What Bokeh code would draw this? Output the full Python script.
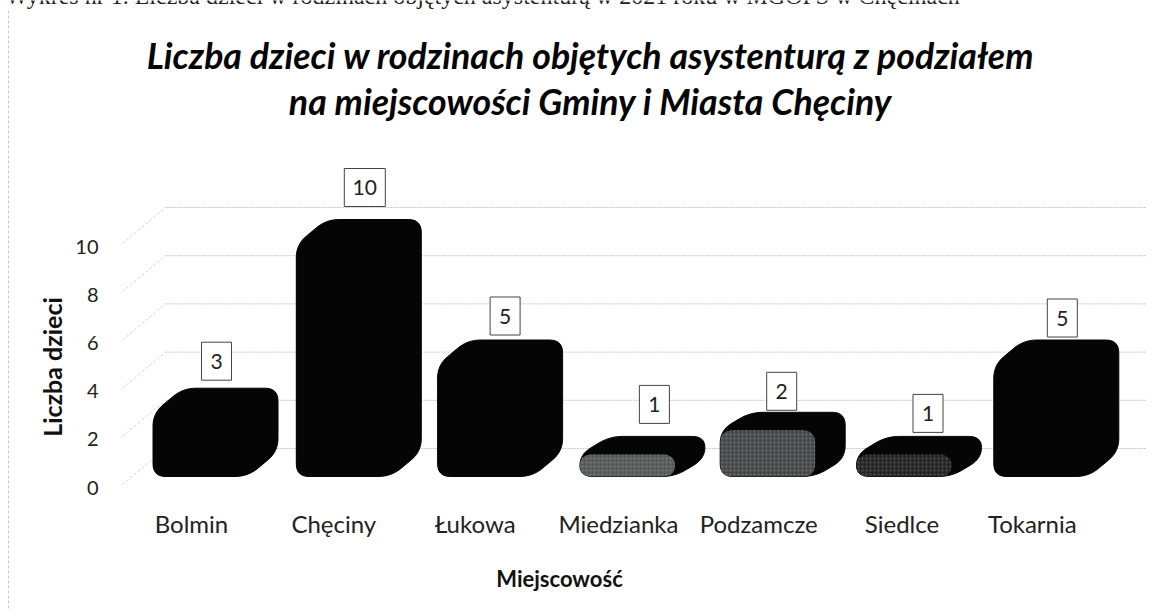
from bokeh.plotting import figure
from bokeh.models import Range1d, LinearAxis, FixedTicker
from bokeh.core.properties import value
from bokeh.embed import file_html
from bokeh.resources import INLINE

categories = ["Bolmin", "Chęciny", "Łukowa", "Miedzianka", "Podzamcze", "Siedlce", "Tokarnia"]
counts = [3, 10, 5, 1, 2, 1, 5]
y_ticks = [0, 2, 4, 6, 8, 10]
title_lines = ["Liczba dzieci w rodzinach objętych asystenturą z podziałem",
               "na miejscowości Gminy i Miasta Chęciny"]
caption = "Wykres nr 1. Liczba dzieci w rodzinach objętych asystenturą w 2021 roku w MGOPS w Chęcinach"
front_colors = ["#050505", "#050505", "#050505", "#575b5b", "#45494a", "#262626", "#050505"]
speckle_alpha = [0, 0, 0, 0.55, 0.55, 0.4, 0]
bar_dx = [0, 3, 4, 6, 6, 2, -1]
box_dx = [1, 9, 9, 18, 5, 11, 5]
box_gap = [27, 32, 24, 32, 21, 23, 22]
label_dx = [-24, -22, -21, -18, -18, -15, -25]

W, H = 1152, 609
UX, UY = 140.3, 24.1      # pixels per category / per value
X0, Y0 = 215, 487         # pixel of category 0 centre / value 0 label
px = lambda v: v / UX
py = lambda v: v / UY
FONT = "Lato"

p = figure(width=W, height=H, output_backend="svg", toolbar_location=None,
           x_range=Range1d(-X0 / UX, (W - X0) / UX),
           y_range=Range1d(-(H - Y0) / UY, Y0 / UY),
           min_border=0, x_axis_type=None, y_axis_type=None,
           background_fill_color="#ffffff", border_fill_color="#ffffff", outline_line_color=None,
           styles={"position": "absolute", "left": "0px", "top": "0px"})
p.grid.visible = False


def Xp(x):
    return (x - X0) / UX


def Yp(y):
    return (Y0 - y) / UY


# back wall gridlines and floor-side slants
gx, gy, sx, sy = [], [], [], []
for t in y_ticks:
    back = t + py(39)
    front = t + py(3)
    gx.append([Xp(165), Xp(1146)])
    gy.append([back, back])
    sx.append([Xp(122), Xp(165)])
    sy.append([front, back])
p.multi_line(gx, gy, line_color="#c8c8c8", line_width=1, line_dash="2 1")
p.multi_line(sx, sy, line_color="#d6d6d6", line_width=1, line_dash="3 2")


def rounded(points, r):
    out_x, out_y = [], []
    n = len(points)
    for i in range(n):
        (ax, ay), (bx, by), (cx, cy) = points[i - 1], points[i], points[(i + 1) % n]
        d1 = ((ax - bx) ** 2 + (ay - by) ** 2) ** 0.5
        d2 = ((cx - bx) ** 2 + (cy - by) ** 2) ** 0.5
        ra = min(r, d1 / 2) / d1
        rc = min(r, d2 / 2) / d2
        s = (bx + (ax - bx) * ra, by + (ay - by) * ra)
        e = (bx + (cx - bx) * rc, by + (cy - by) * rc)
        for k in range(9):
            u = k / 8
            out_x.append((1 - u) ** 2 * s[0] + 2 * u * (1 - u) * bx + u ** 2 * e[0])
            out_y.append((1 - u) ** 2 * s[1] + 2 * u * (1 - u) * by + u ** 2 * e[1])
    return out_x, out_y


W_F, DX, RAD = 95, 30, 13
BASE_PX = 11 * 1.0  # bar front bottom above value 0 label
sil_x, sil_y, face_x, face_y, lab_x, lab_y = [], [], [], [], [], []
for i, v in enumerate(counts):
    cx = i * UX + bar_dx[i]
    dy = 18 if v <= 2 else 25
    total = v * UY + 16
    l = cx - (W_F + DX) / 2
    r = l + W_F
    b = BASE_PX
    t = b + total - dy
    xs, ys = rounded([(l, b), (r, b), (r + DX, b + dy), (r + DX, t + dy), (l + DX, t + dy), (l, t)], RAD)
    sil_x.append([u / UX for u in xs])
    sil_y.append([u / UY for u in ys])
    xs, ys = rounded([(l, b), (r, b), (r, t), (l, t)], RAD)
    face_x.append([u / UX for u in xs])
    face_y.append([u / UY for u in ys])
    lab_x.append(i + px(box_dx[i]))
    lab_y.append((b + total + box_gap[i]) / UY)

p.patches(sil_x, sil_y, fill_color="#050505", line_color="#050505")
p.patches(face_x, face_y, fill_color=front_colors, line_color=None,
          hatch_pattern="dot", hatch_color="#9a9a9a", hatch_alpha=speckle_alpha, hatch_scale=4, hatch_weight=1)

# data labels in boxes
lab_w = [41 if v >= 10 else 30 for v in counts]
p.rect(lab_x, lab_y, width=lab_w, height=38, width_units="screen", height_units="screen",
       fill_color="#ffffff", line_color="#444444", line_width=1)
p.text(lab_x, lab_y, text=[str(v) for v in counts], text_font=value(FONT), text_font_size="21px",
       text_color="#222222", text_align="center", text_baseline="middle")

# titles and caption
p.text([Xp(590), Xp(590)], [Yp(55), Yp(101)], text=title_lines, text_font=value(FONT),
       text_font_style="bold italic", text_font_size="35.7px", text_color="#050505",
       text_align="center", text_baseline="middle")
p.text([Xp(5)], [Yp(-5)], text=[caption], text_font=value("Liberation Serif"), text_font_size="24px",
       text_color="#222222", text_align="left", text_baseline="alphabetic")

# scan edge
p.line([Xp(8), Xp(8)], [Yp(10), Yp(609)], line_color="#c8c8c8", line_dash="3 2")

# axes
yax = LinearAxis(fixed_location=Xp(106), bounds=(0, 10), ticker=FixedTicker(ticks=y_ticks),
                 axis_line_color=None, major_tick_line_color=None, minor_tick_line_color=None,
                 major_label_standoff=2, major_label_text_font=FONT, major_label_text_font_size="20px",
                 major_label_text_color="#222222", axis_label="Liczba dzieci",
                 axis_label_text_font=FONT, axis_label_text_font_style="bold",
                 axis_label_text_font_size="25px", axis_label_text_color="#111111",
                 axis_label_standoff=5)
p.add_layout(yax, "left")

x_ticks = [i + px(label_dx[i]) for i in range(len(categories))]
xax = LinearAxis(fixed_location=Yp(500), bounds=(Xp(86), Xp(1032)), ticker=FixedTicker(ticks=x_ticks),
                 major_label_overrides={t: c for t, c in zip(x_ticks, categories)},
                 axis_line_color=None, major_tick_line_color=None, minor_tick_line_color=None,
                 major_label_standoff=2, major_label_text_font=FONT, major_label_text_font_size="24px",
                 major_label_text_color="#222222", axis_label="Miejscowość",
                 axis_label_text_font=FONT, axis_label_text_font_style="bold",
                 axis_label_text_font_size="22px", axis_label_text_color="#111111",
                 axis_label_standoff=24)
p.add_layout(xax, "below")

open("out.html", "w").write(file_html(p, INLINE))
